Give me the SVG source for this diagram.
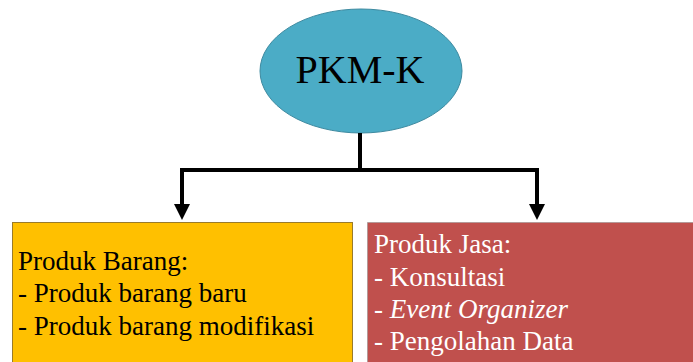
<svg xmlns="http://www.w3.org/2000/svg" width="693" height="362" viewBox="0 0 693 362">
<style>
.t{font-size:27px}
.c{fill:none;stroke:#000;stroke-width:4;stroke-linejoin:miter}
</style>
<defs>
<marker id="ah" markerWidth="4.5" markerHeight="4" refX="1.5" refY="2" orient="auto" markerUnits="strokeWidth">
<path d="M0,0 L4,2 L0,4 Z" fill="#000"/>
</marker>
</defs>
<rect width="693" height="362" fill="#fff"/>
<g id="pkm">
<ellipse cx="361" cy="71" rx="101" ry="62" fill="#4BACC6" stroke="#3e8aa0" stroke-width="1"/>
<text x="360" y="83" text-anchor="middle" font-family="Liberation Serif, DejaVu Serif, serif" font-size="40" fill="#000">PKM-K</text>
</g>
<g id="connectors">
<path class="c" d="M360,133 V170 H182 V210" marker-end="url(#ah)"/>
<path class="c" d="M360,170 H537 V210" marker-end="url(#ah)"/>
</g>
<g id="barang">
<rect x="12.5" y="222.5" width="340" height="150" fill="#FFC000" stroke="#9a7b2a" stroke-width="1"/>
<text class="t" font-family="Liberation Serif, DejaVu Serif, serif" fill="#000"><tspan x="18" y="270">Produk Barang:</tspan><tspan x="18" y="302">- Produk barang baru</tspan><tspan x="18" y="335">- Produk barang modifikasi</tspan></text>
</g>
<g id="jasa">
<rect x="367.5" y="222.5" width="340" height="150" fill="#C0504D" stroke="#8a8a8a" stroke-width="1" stroke-dasharray="1 1"/>
<text class="t" font-family="Liberation Serif, DejaVu Serif, serif" fill="#fff"><tspan x="374" y="253">Produk Jasa:</tspan><tspan x="374" y="286">- Konsultasi</tspan><tspan x="374" y="318">- <tspan font-style="italic">Event Organizer</tspan></tspan><tspan x="374" y="350">- Pengolahan Data</tspan></text>
</g>
</svg>
